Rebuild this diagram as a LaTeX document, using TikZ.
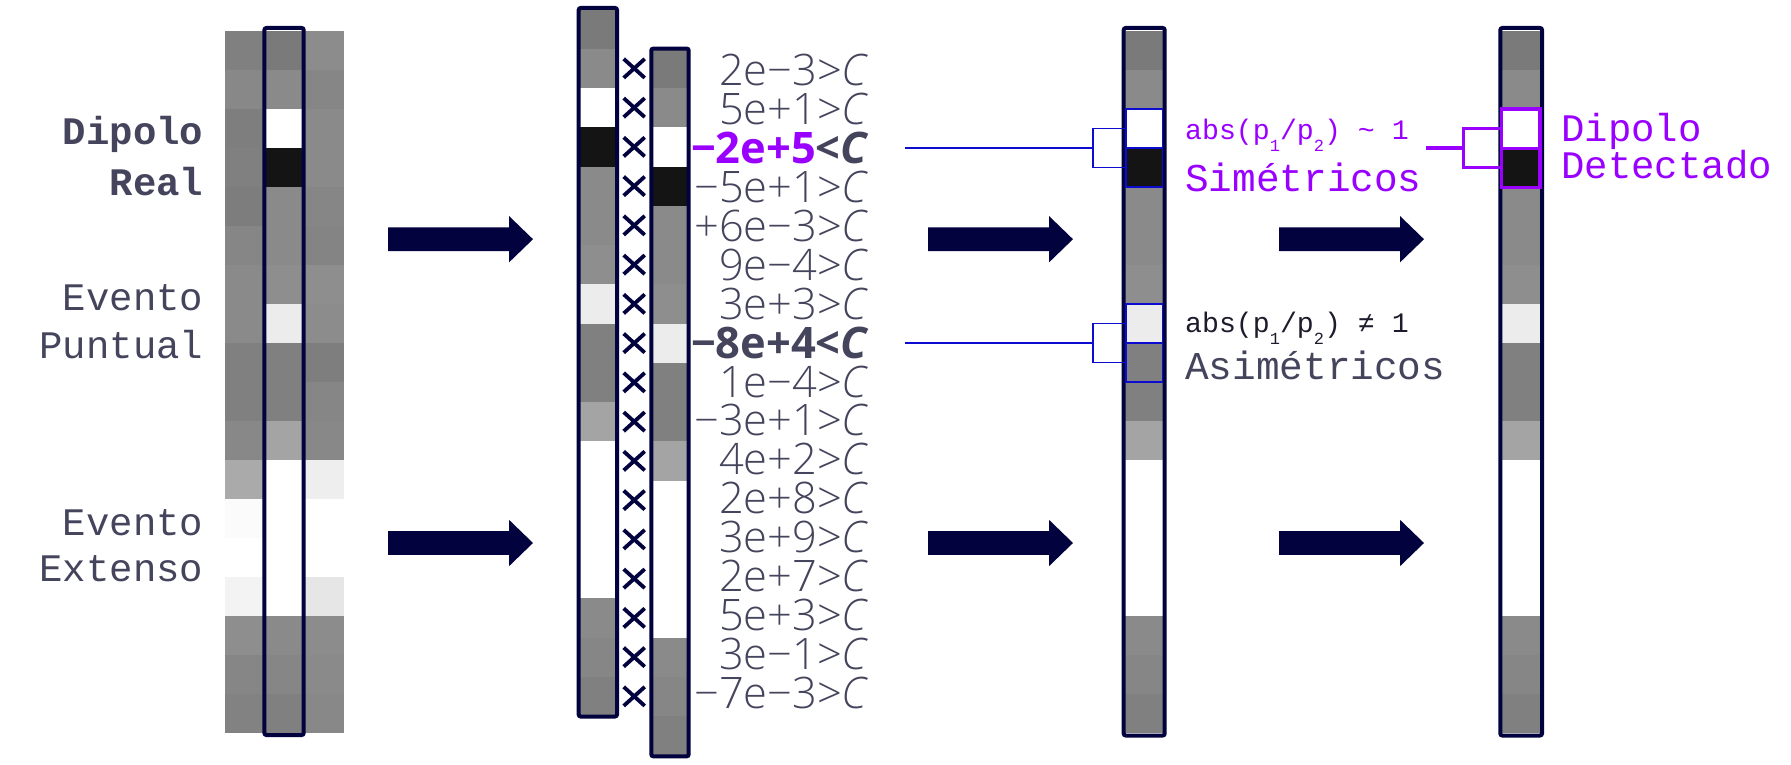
\documentclass[tikz,border=0pt]{standalone}
\usepackage{fontspec}
\setmainfont{Open Sans}[UprightFont=* Light, ItalicFont=* Light Italic, BoldFont=* Bold, BoldItalicFont=* Bold Italic]
\newfontfamily\mono{Liberation Mono}
\definecolor{navy}{RGB}{2,2,62}
\definecolor{txt}{RGB}{68,68,92}
\definecolor{purp}{RGB}{153,0,255}
\definecolor{blu}{RGB}{12,12,208}
\definecolor{dk}{RGB}{28,28,44}
\def\patA{122,138,255,20,138,138,142,236,128,128,164,255,255,255,255,138,134,128}
\def\patL{128,136,126,128,125,134,138,138,128,128,136,170,251,255,243,142,134,130}
\def\patR{140,134,138,138,134,132,142,140,126,134,136,238,255,255,230,140,138,136}
\newcommand\cellcol[5]{%
  \foreach \g [count=\i from 0] in #5 {%
    \fill[fill={rgb,255:red,\g;green,\g;blue,\g}] (#1,{#3+\i*#4}) rectangle (#2,{#3+(\i+1)*#4});
  }}
\newcommand\lowsub[1]{\raisebox{-11.5pt}{\fontsize{17}{17}\selectfont #1}}
\tikzset{
  colframe/.style={draw=navy, line width=4, rounded corners=2},
  bigarrow/.pic={\fill[navy] (0,-11.8) -- (121,-11.8) -- (121,-23.2) -- (145,0) -- (121,23.2) -- (121,11.8) -- (0,11.8) -- cycle;},
  num/.style={font=\fontsize{43.4}{43.4}\selectfont, text=txt, anchor=base east, inner sep=0},
  lab/.style={font=\mono\fontsize{39}{39}\selectfont, text=txt, anchor=base east, inner sep=0},
  rlab/.style={font=\mono\fontsize{39.4}{39.4}\selectfont, anchor=base west, inner sep=0},
  slab/.style={font=\mono\fontsize{28.2}{28.2}\selectfont, anchor=base west, inner sep=0},
  xmark/.style={draw=navy, line width=3.8},
  blink/.style={draw=blu, line width=1.7},
  plink/.style={draw=purp, line width=3.4},
}
\begin{document}
\begin{tikzpicture}[x=1pt,y=-1pt]
\useasboundingbox (0,0) rectangle (1791,765);
% ---------- column 1 (three strips)
\cellcol{224.7}{264.4}{31}{39}{\patL}
\cellcol{264.4}{303.7}{31}{39}{\patA}
\cellcol{303.7}{344.4}{31}{39}{\patR}
\draw[colframe] (264.4,28) rectangle (303.7,735);
% left labels
\node[lab, font=\mono\bfseries\fontsize{39}{39}\selectfont] (dip1) at (203.5,145) {Dipolo};
\node[lab, font=\mono\bfseries\fontsize{39}{39}\selectfont] (dip2) at (203.5,195) {Real};
\node[lab] (ep1) at (203.5,310) {Evento};
\node[lab] (ep2) at (203.5,358.3) {Puntual};
\node[lab] (ee1) at (203.5,535) {Evento};
\node[lab] (ee2) at (203.5,581.7) {Extenso};
% ---------- arrows
\pic at (388,239.2) {bigarrow};
\pic at (388,543) {bigarrow};
\pic at (928,239.2) {bigarrow};
\pic at (928,543) {bigarrow};
\pic at (1279,239.2) {bigarrow};
\pic at (1279,543) {bigarrow};
% ---------- column 2 (two shifted strips)
\cellcol{578.7}{617}{9.5}{39.25}{\patA}
\draw[colframe] (578.7,8) rectangle (617,716.5);
\cellcol{651.3}{688.7}{48.75}{39.25}{\patA}
\draw[colframe] (651.3,48.6) rectangle (688.7,756.3);
\foreach \k in {1,...,17} {
  \pgfmathsetmacro\c{29.125+39.25*\k}
  \draw[xmark] (623.7,\c-9.5) -- (644.7,\c+9.5) (623.7,\c+9.5) -- (644.7,\c-9.5);
}
% products
\node[num] (n1)  at (869,86.0)   {2e−3>\textit{C}};
\node[num] (n2)  at (869,124.9)  {5e+1>\textit{C}};
\node[num, font=\bfseries\fontsize{43.4}{43.4}\selectfont] (n3) at (869,163.75) {\textcolor{purp}{−2e+5}<\textit{C}};
\node[num] (n4)  at (869,202.6)  {−5e+1>\textit{C}};
\node[num] (n5)  at (869,241.5)  {+6e−3>\textit{C}};
\node[num] (n6)  at (869,280.4)  {9e−4>\textit{C}};
\node[num] (n7)  at (869,319.25) {3e+3>\textit{C}};
\node[num, font=\bfseries\fontsize{43.4}{43.4}\selectfont] (n8) at (869,358.1) {−8e+4<\textit{C}};
\node[num] (n9)  at (869,397.0)  {1e−4>\textit{C}};
\node[num] (n10) at (869,435.9)  {−3e+1>\textit{C}};
\node[num] (n11) at (869,474.75) {4e+2>\textit{C}};
\node[num] (n12) at (869,513.6)  {2e+8>\textit{C}};
\node[num] (n13) at (869,552.5)  {3e+9>\textit{C}};
\node[num] (n14) at (869,591.4)  {2e+7>\textit{C}};
\node[num] (n15) at (869,630.25) {5e+3>\textit{C}};
\node[num] (n16) at (869,669.1)  {3e−1>\textit{C}};
\node[num] (n17) at (869,708.0)  {−7e−3>\textit{C}};
% ---------- column 3
\cellcol{1123.7}{1164.7}{31}{39}{\patA}
\draw[colframe] (1123.7,28) rectangle (1164.7,735.5);
\draw[blink] (1126,109) rectangle (1162.6,148);
\draw[blink] (1126,148) rectangle (1162.6,187);
\draw[blink] (1126,304) rectangle (1162.6,343);
\draw[blink] (1126,343) rectangle (1162.6,382);
\coordinate (s3) at (904.6,148);
\coordinate (b3) at (1092.7,148);
\coordinate (a3t) at (1126,128.5);
\coordinate (a3b) at (1126,167.5);
\coordinate (s8) at (904.6,343);
\coordinate (b8) at (1092.7,343);
\coordinate (a8t) at (1126,323.5);
\coordinate (a8b) at (1126,362.5);
\draw[blink] (s3) -- (b3);
\draw[blink] (a3t) -| (b3) |- (a3b);
\draw[blink] (s8) -- (b8);
\draw[blink] (a8t) -| (b8) |- (a8b);
\node[slab, text=purp] (absA) at (1185,140) {abs(p\lowsub{1}/p\lowsub{2}) \textasciitilde{} 1};
\node[rlab, text=purp] (sim) at (1185,191.7) {Simétricos};
\node[slab, text=dk] (absB) at (1185,332.7) {abs(p\lowsub{1}/p\lowsub{2}) ≠ 1};
\node[rlab, text=txt] (asim) at (1185,379.3) {Asimétricos};
% ---------- column 4
\cellcol{1500.3}{1542}{31}{39}{\patA}
\draw[colframe] (1500.3,28) rectangle (1542,735.5);
\draw[plink] (1501.7,109) rectangle (1539.8,187.7);
\draw[plink] (1501.7,148.3) -- (1539.8,148.3);
\coordinate (p0) at (1426,148);
\coordinate (pb) at (1463.3,148);
\coordinate (pt) at (1501.7,128.5);
\coordinate (pd) at (1501.7,167.5);
\draw[plink] (p0) -- (pb);
\draw[plink] (pt) -| (pb) |- (pd);
\node[rlab, text=purp, font=\mono\fontsize{39}{39}\selectfont] (det1) at (1561,141.7) {Dipolo};
\node[rlab, text=purp, font=\mono\fontsize{39}{39}\selectfont] (det2) at (1561,178.3) {Detectado};
\end{tikzpicture}
\end{document}
